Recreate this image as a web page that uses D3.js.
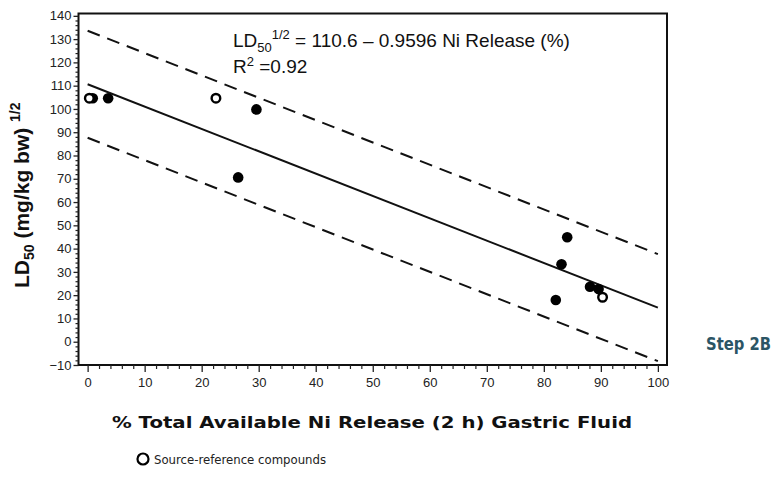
<!DOCTYPE html>
<html>
<head>
<meta charset="utf-8">
<script src="https://cdn.jsdelivr.net/npm/d3@7"></script>
<style>
  body { margin: 0; background: #fff; }
  svg { display: block; }
</style>
</head>
<body>
<div class="canvas"></div>
<script>
// data
const filledX = [0.9, 3.6, 29.6, 26.4, 84.1, 83.1, 88.1, 89.6, 82.1];
const filledY = [104.6, 104.6, 99.8, 70.6, 44.9, 33.3, 23.6, 22.6, 17.9];
const openX = [0.3, 22.5, 90.3];
const openY = [104.6, 104.6, 19.1];
const intercept = 110.6;
const slope = -0.9596;
const band = 23;
const xTicks = [0, 10, 20, 30, 40, 50, 60, 70, 80, 90, 100];
const yTicks = [-10, 0, 10, 20, 30, 40, 50, 60, 70, 80, 90, 100, 110, 120, 130, 140];

const W = 781, H = 478;
const svg = d3.select(".canvas").append("svg").attr("width", W).attr("height", H);

const plotL = 78.5, plotR = 667, plotT = 13.5, plotB = 365;
let xScale = d3.scaleLinear().domain([-1.6, 101.6]).range([plotL, plotR]);
let yScale = d3.scaleLinear().domain([-10, 141]).range([plotB, plotT]);

// frame
svg.append("rect")
  .attr("x", plotL).attr("y", plotT)
  .attr("width", plotR - plotL).attr("height", plotB - plotT)
  .attr("fill", "none").attr("stroke", "#111").attr("stroke-width", 2);

// x axis
let xAxis = d3.axisBottom(xScale).tickValues(xTicks).tickSize(7).tickPadding(6);
let gx = svg.append("g").attr("transform", `translate(0,${plotB})`).call(xAxis);
gx.select(".domain").remove();
gx.selectAll("line").attr("stroke", "#222").attr("stroke-width", 1.3);
gx.selectAll("text")
  .style("font-family", "'Liberation Sans', Arial, sans-serif")
  .style("font-size", "13px").attr("fill", "#222");
let gxm = svg.append("g").attr("transform", `translate(0,${plotB})`)
  .call(d3.axisBottom(xScale).tickValues(d3.range(0, 101, 2).filter((v) => v % 10)).tickSize(4).tickFormat(""));
gxm.select(".domain").remove();
gxm.selectAll("line").attr("stroke", "#222").attr("stroke-width", 1.2);

// y axis
let yAxis = d3.axisLeft(yScale).tickValues(yTicks).tickSize(5).tickPadding(2)
  .tickFormat((d) => (d < 0 ? "\u2212" + Math.abs(d) : d));
let gy = svg.append("g").attr("transform", `translate(${plotL},0)`).call(yAxis);
gy.select(".domain").remove();
gy.selectAll("line").attr("stroke", "#222").attr("stroke-width", 1.3);
gy.selectAll("text")
  .style("font-family", "'Liberation Sans', Arial, sans-serif")
  .style("font-size", "13px").attr("fill", "#222");
let gym = svg.append("g").attr("transform", `translate(${plotL},0)`)
  .call(d3.axisLeft(yScale).tickValues(d3.range(-10, 141, 2).filter((v) => v % 10)).tickSize(3).tickFormat(""));
gym.select(".domain").remove();
gym.selectAll("line").attr("stroke", "#222").attr("stroke-width", 1.2);

// regression line and prediction band
const line = d3.line().x((d) => xScale(d[0])).y((d) => yScale(d[1]));
const xs = [0, 100];
svg.append("path")
  .attr("d", line(xs.map((x) => [x, intercept + slope * x])))
  .attr("stroke", "#111").attr("stroke-width", 2).attr("fill", "none");
[band, -band].forEach((off) => {
  svg.append("path")
    .attr("d", line(xs.map((x) => [x, intercept + slope * x + off])))
    .attr("stroke", "#111").attr("stroke-width", 2).attr("fill", "none")
    .attr("stroke-dasharray", "13,8");
});

// points
svg.selectAll(".filled")
  .data(filledX.map((x, i) => [x, filledY[i]]))
  .join("circle").attr("class", "filled")
  .attr("cx", (d) => xScale(d[0])).attr("cy", (d) => yScale(d[1]))
  .attr("r", 5.3).attr("fill", "#000");
svg.selectAll(".open")
  .data(openX.map((x, i) => [x, openY[i]]))
  .join("circle").attr("class", "open")
  .attr("cx", (d) => xScale(d[0])).attr("cy", (d) => yScale(d[1]))
  .attr("r", 4.3).attr("fill", "#fff").attr("stroke", "#000").attr("stroke-width", 2.4);

// equation
const eq = svg.append("text").attr("x", 233).attr("y", 47)
  .style("font-family", "'Liberation Sans', Arial, sans-serif")
  .style("font-size", "19px").attr("fill", "#111");
eq.append("tspan").text("LD");
eq.append("tspan").text("50").attr("dy", 5).style("font-size", "13px");
eq.append("tspan").text("1/2").attr("dy", -13).style("font-size", "13px");
eq.append("tspan").text(" = 110.6 \u2013 0.9596 Ni Release (%)").attr("dy", 8);
const r2 = svg.append("text").attr("x", 233).attr("y", 73)
  .style("font-family", "'Liberation Sans', Arial, sans-serif")
  .style("font-size", "19px").attr("fill", "#111");
r2.append("tspan").text("R");
r2.append("tspan").text("2").attr("dy", -7).style("font-size", "13px");
r2.append("tspan").text(" =0.92").attr("dy", 7);

// y title
const yt = svg.append("text")
  .attr("transform", `translate(29,${(plotT + plotB) / 2 + 6}) rotate(-90)`)
  .attr("text-anchor", "middle")
  .style("font-family", "'Liberation Sans', Arial, sans-serif")
  .style("font-size", "21px").style("font-weight", 600).attr("fill", "#111");
yt.append("tspan").text("LD");
yt.append("tspan").text("50").attr("dy", 5).style("font-size", "14px");
yt.append("tspan").text(" (mg/kg bw) ").attr("dy", -5);
yt.append("tspan").text("1/2").attr("dy", -9).style("font-size", "14px");

// x title
svg.append("text").attr("x", 372).attr("y", 428).attr("text-anchor", "middle")
  .style("font-family", "'DejaVu Sans', sans-serif")
  .style("font-size", "16.5px").style("font-weight", "bold").attr("fill", "#111")
  .attr("textLength", 520).attr("lengthAdjust", "spacingAndGlyphs")
  .text("% Total Available Ni Release (2 h) Gastric Fluid");

// step label
svg.append("text").attr("x", 706).attr("y", 350)
  .style("font-family", "'DejaVu Sans', sans-serif")
  .style("font-size", "17px").style("font-weight", "bold").attr("fill", "#2b5565")
  .attr("textLength", 65).attr("lengthAdjust", "spacingAndGlyphs")
  .text("Step 2B");

// legend
svg.append("circle").attr("cx", 143).attr("cy", 459).attr("r", 5.5)
  .attr("fill", "#fff").attr("stroke", "#000").attr("stroke-width", 2.2);
svg.append("text").attr("x", 154).attr("y", 463.5)
  .style("font-family", "'DejaVu Sans', sans-serif")
  .style("font-size", "12px").attr("fill", "#222")
  .attr("textLength", 172).attr("lengthAdjust", "spacingAndGlyphs")
  .text("Source-reference compounds");
</script>
</body>
</html>
